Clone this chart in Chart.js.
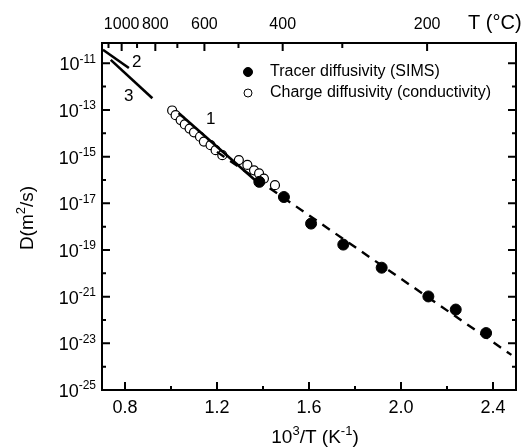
<!DOCTYPE html>
<html><head><meta charset="utf-8">
<script src="https://cdn.jsdelivr.net/npm/chart.js@4/dist/chart.umd.min.js"></script>
<style>html,body{margin:0;padding:0;background:#fff}canvas{display:block}</style>
</head><body>
<canvas id="c" width="525" height="448"></canvas>
<script>
// ---- data (x = 10^3/T in K^-1, D in m^2/s) ----
const tracerX = [1.384, 1.491, 1.609, 1.749, 1.916, 2.119, 2.238, 2.370];
const tracerD = [8.3e-17, 1.86e-17, 1.35e-18, 1.7e-19, 1.74e-20, 1.02e-21, 2.8e-22, 2.75e-23];
const chargeX = [1.005, 1.020, 1.042, 1.060, 1.081, 1.100, 1.126, 1.143, 1.172, 1.194, 1.223, 1.295, 1.332, 1.361, 1.383, 1.404, 1.452];
const chargeD = [9.5e-14, 6.0e-14, 3.7e-14, 2.4e-14, 1.6e-14, 1.1e-14, 7.1e-15, 4.4e-15, 3.1e-15, 1.9e-15, 1.15e-15, 7.1e-16, 4.4e-16, 2.6e-16, 1.9e-16, 1.15e-16, 6.0e-17];
const line1X = [1.033, 1.381]; const line1D = [7.4e-14, 7.2e-17];
const line2X = [0.704, 0.817]; const line2D = [3.8e-11, 6.3e-12];
const line3X = [0.738, 0.919]; const line3D = [1.4e-11, 3.2e-13];
const fitX = [1.20, 2.48];     const fitD = [1.6e-15, 3.2e-24];
const xMajorTicks = [0.8, 1.2, 1.6, 2.0, 2.4];
const xMinorTicks = [1.0, 1.4, 1.8, 2.2];
const topTempsMajor = [1000, 800, 600, 400, 200];
const topTempsMinor = [1100, 900, 700, 500, 300];
const yMajorExp = [-25, -23, -21, -19, -17, -15, -13, -11];
const yMinorExp = [-24, -22, -20, -18, -16, -14, -12];
const curveLabels = ['1', '2', '3'];
const curveLabelX = [1.173, 0.851, 0.816];
const curveLabelD = [4.1e-14, 1.15e-11, 4.0e-13];
const legendLabels = ['Tracer diffusivity (SIMS)', 'Charge diffusivity (conductivity)'];

const FONT = 'Arial, "Liberation Sans", Helvetica, sans-serif';
const pts = (xs, ys) => xs.map((x, i) => ({x: x, y: ys[i]}));
const invT = t => 1000 / (t + 273.15);

function drawParts(ctx, parts, x, y, size, align) {
  const sup = Math.round(size * 0.68);
  let w = 0;
  parts.forEach(p => { ctx.font = (p.s ? sup : size) + 'px ' + FONT; w += ctx.measureText(p.t).width; });
  let cx = align === 'center' ? x - w / 2 : (align === 'right' ? x - w : x);
  ctx.textAlign = 'left'; ctx.textBaseline = 'alphabetic';
  parts.forEach(p => {
    ctx.font = (p.s ? sup : size) + 'px ' + FONT;
    ctx.fillText(p.t, cx, p.s ? y - size * 0.42 : y);
    cx += ctx.measureText(p.t).width;
  });
}

const decor = {
  id: 'decor',
  afterDraw(chart) {
    const ctx = chart.ctx, ca = chart.chartArea;
    const xs = chart.scales.x, ys = chart.scales.y;
    ctx.save();
    ctx.strokeStyle = '#000'; ctx.fillStyle = '#000'; ctx.lineWidth = 2;
    ctx.strokeRect(ca.left, ca.top, ca.right - ca.left, ca.bottom - ca.top);
    ctx.beginPath();
    const tickX = (v, len) => { const p = xs.getPixelForValue(v); ctx.moveTo(p, ca.bottom); ctx.lineTo(p, ca.bottom - len); };
    const tickTop = (v, len) => { const p = xs.getPixelForValue(v); ctx.moveTo(p, ca.top); ctx.lineTo(p, ca.top + len); };
    const tickY = (e, len) => { const p = ys.getPixelForValue(Math.pow(10, e));
      ctx.moveTo(ca.left, p); ctx.lineTo(ca.left + len, p); ctx.moveTo(ca.right, p); ctx.lineTo(ca.right - len, p); };
    xMajorTicks.forEach(v => tickX(v, 8)); xMinorTicks.forEach(v => tickX(v, 4));
    topTempsMajor.forEach(t => tickTop(invT(t), 8)); topTempsMinor.forEach(t => tickTop(invT(t), 5));
    yMajorExp.forEach(e => tickY(e, 8)); yMinorExp.forEach(e => tickY(e, 4));
    ctx.stroke();
    // y tick labels
    yMajorExp.forEach(e => {
      const p = ys.getPixelForValue(Math.pow(10, e));
      ctx.font = '12px ' + FONT;
      const sw = ctx.measureText(String(e)).width;
      drawParts(ctx, [{t: '10'}, {t: String(e), s: 1}], 96 - sw - 20, p + 7, 18, 'left');
    });
    // axis titles
    drawParts(ctx, [{t: '10'}, {t: '3', s: 1}, {t: '/T (K'}, {t: '-1', s: 1}, {t: ')'}], 315, 443, 19, 'center');
    ctx.save(); ctx.translate(33, 218); ctx.rotate(-Math.PI / 2);
    drawParts(ctx, [{t: 'D(m'}, {t: '2', s: 1}, {t: '/s)'}], 0, 0, 19, 'center');
    ctx.restore();
    drawParts(ctx, [{t: 'T (°C)'}], 468, 29, 20, 'left');
    // curve labels
    curveLabels.forEach((s, i) => {
      ctx.font = '17px ' + FONT; ctx.textAlign = 'center'; ctx.textBaseline = 'middle';
      ctx.fillText(s, xs.getPixelForValue(curveLabelX[i]), ys.getPixelForValue(curveLabelD[i]));
    });
    // legend
    const ds = chart.data.datasets;
    [0, 5].forEach((di, k) => {
      const y = 72 + k * 21;
      ctx.beginPath(); ctx.arc(248, y, k === 0 ? 4.5 : 4, 0, Math.PI * 2);
      ctx.fillStyle = ds[di].pointBackgroundColor; ctx.fill();
      ctx.lineWidth = 1; ctx.strokeStyle = '#000'; ctx.stroke();
      ctx.fillStyle = '#000'; ctx.font = '16px ' + FONT; ctx.textAlign = 'left'; ctx.textBaseline = 'middle';
      ctx.fillText(legendLabels[k], 270, y);
    });
    ctx.restore();
  }
};

const lineDs = (xs, ys, extra) => Object.assign({data: pts(xs, ys), showLine: true, borderColor: '#000', borderWidth: 2.6, pointRadius: 0, fill: false}, extra || {});
const noGrid = {display: false, drawTicks: false};

new Chart(document.getElementById('c'), {
  type: 'scatter',
  data: {datasets: [
    {label: legendLabels[0], data: pts(tracerX, tracerD), pointRadius: 5.5, pointBackgroundColor: '#000', pointBorderColor: '#000', pointBorderWidth: 1, showLine: false},
    lineDs(line1X, line1D, {label: '1'}),
    lineDs(fitX, fitD, {label: 'fit', borderDash: [9, 7], borderWidth: 2.4}),
    lineDs(line2X, line2D, {label: '2'}),
    lineDs(line3X, line3D, {label: '3'}),
    {label: legendLabels[1], data: pts(chargeX, chargeD), pointRadius: 4.5, pointBackgroundColor: '#fff', pointBorderColor: '#000', pointBorderWidth: 1.2, showLine: false}
  ]},
  options: {
    responsive: false, animation: false, devicePixelRatio: 1,
    layout: {padding: {left: 0, right: 9, top: 0, bottom: 0}},
    plugins: {legend: {display: false}, tooltip: {enabled: false}},
    scales: {
      x: {type: 'linear', position: 'bottom', min: 0.7, max: 2.5, grid: noGrid, border: {display: false},
        afterBuildTicks: s => { s.ticks = xMajorTicks.map(v => ({value: v})); },
        ticks: {autoSkip: false, maxRotation: 0, padding: 7, color: '#000', font: {size: 18, family: FONT}, callback: v => v.toFixed(1)},
        afterFit: s => { s.height = 58; }},
      x2: {type: 'linear', position: 'top', min: 0.7, max: 2.5, grid: noGrid, border: {display: false},
        afterBuildTicks: s => { s.ticks = topTempsMajor.map(t => ({value: invT(t)})); },
        ticks: {autoSkip: false, maxRotation: 0, padding: 9, color: '#000', font: {size: 16, family: FONT}, callback: (v, i) => String(topTempsMajor[i])},
        afterFit: s => { s.height = 43; }},
      y: {type: 'logarithmic', min: 1e-25, max: 7.4e-11, grid: {display: false}, border: {display: false},
        ticks: {display: false}, afterFit: s => { s.width = 102; }}
    }
  },
  plugins: [decor]
});
</script>
</body></html>
